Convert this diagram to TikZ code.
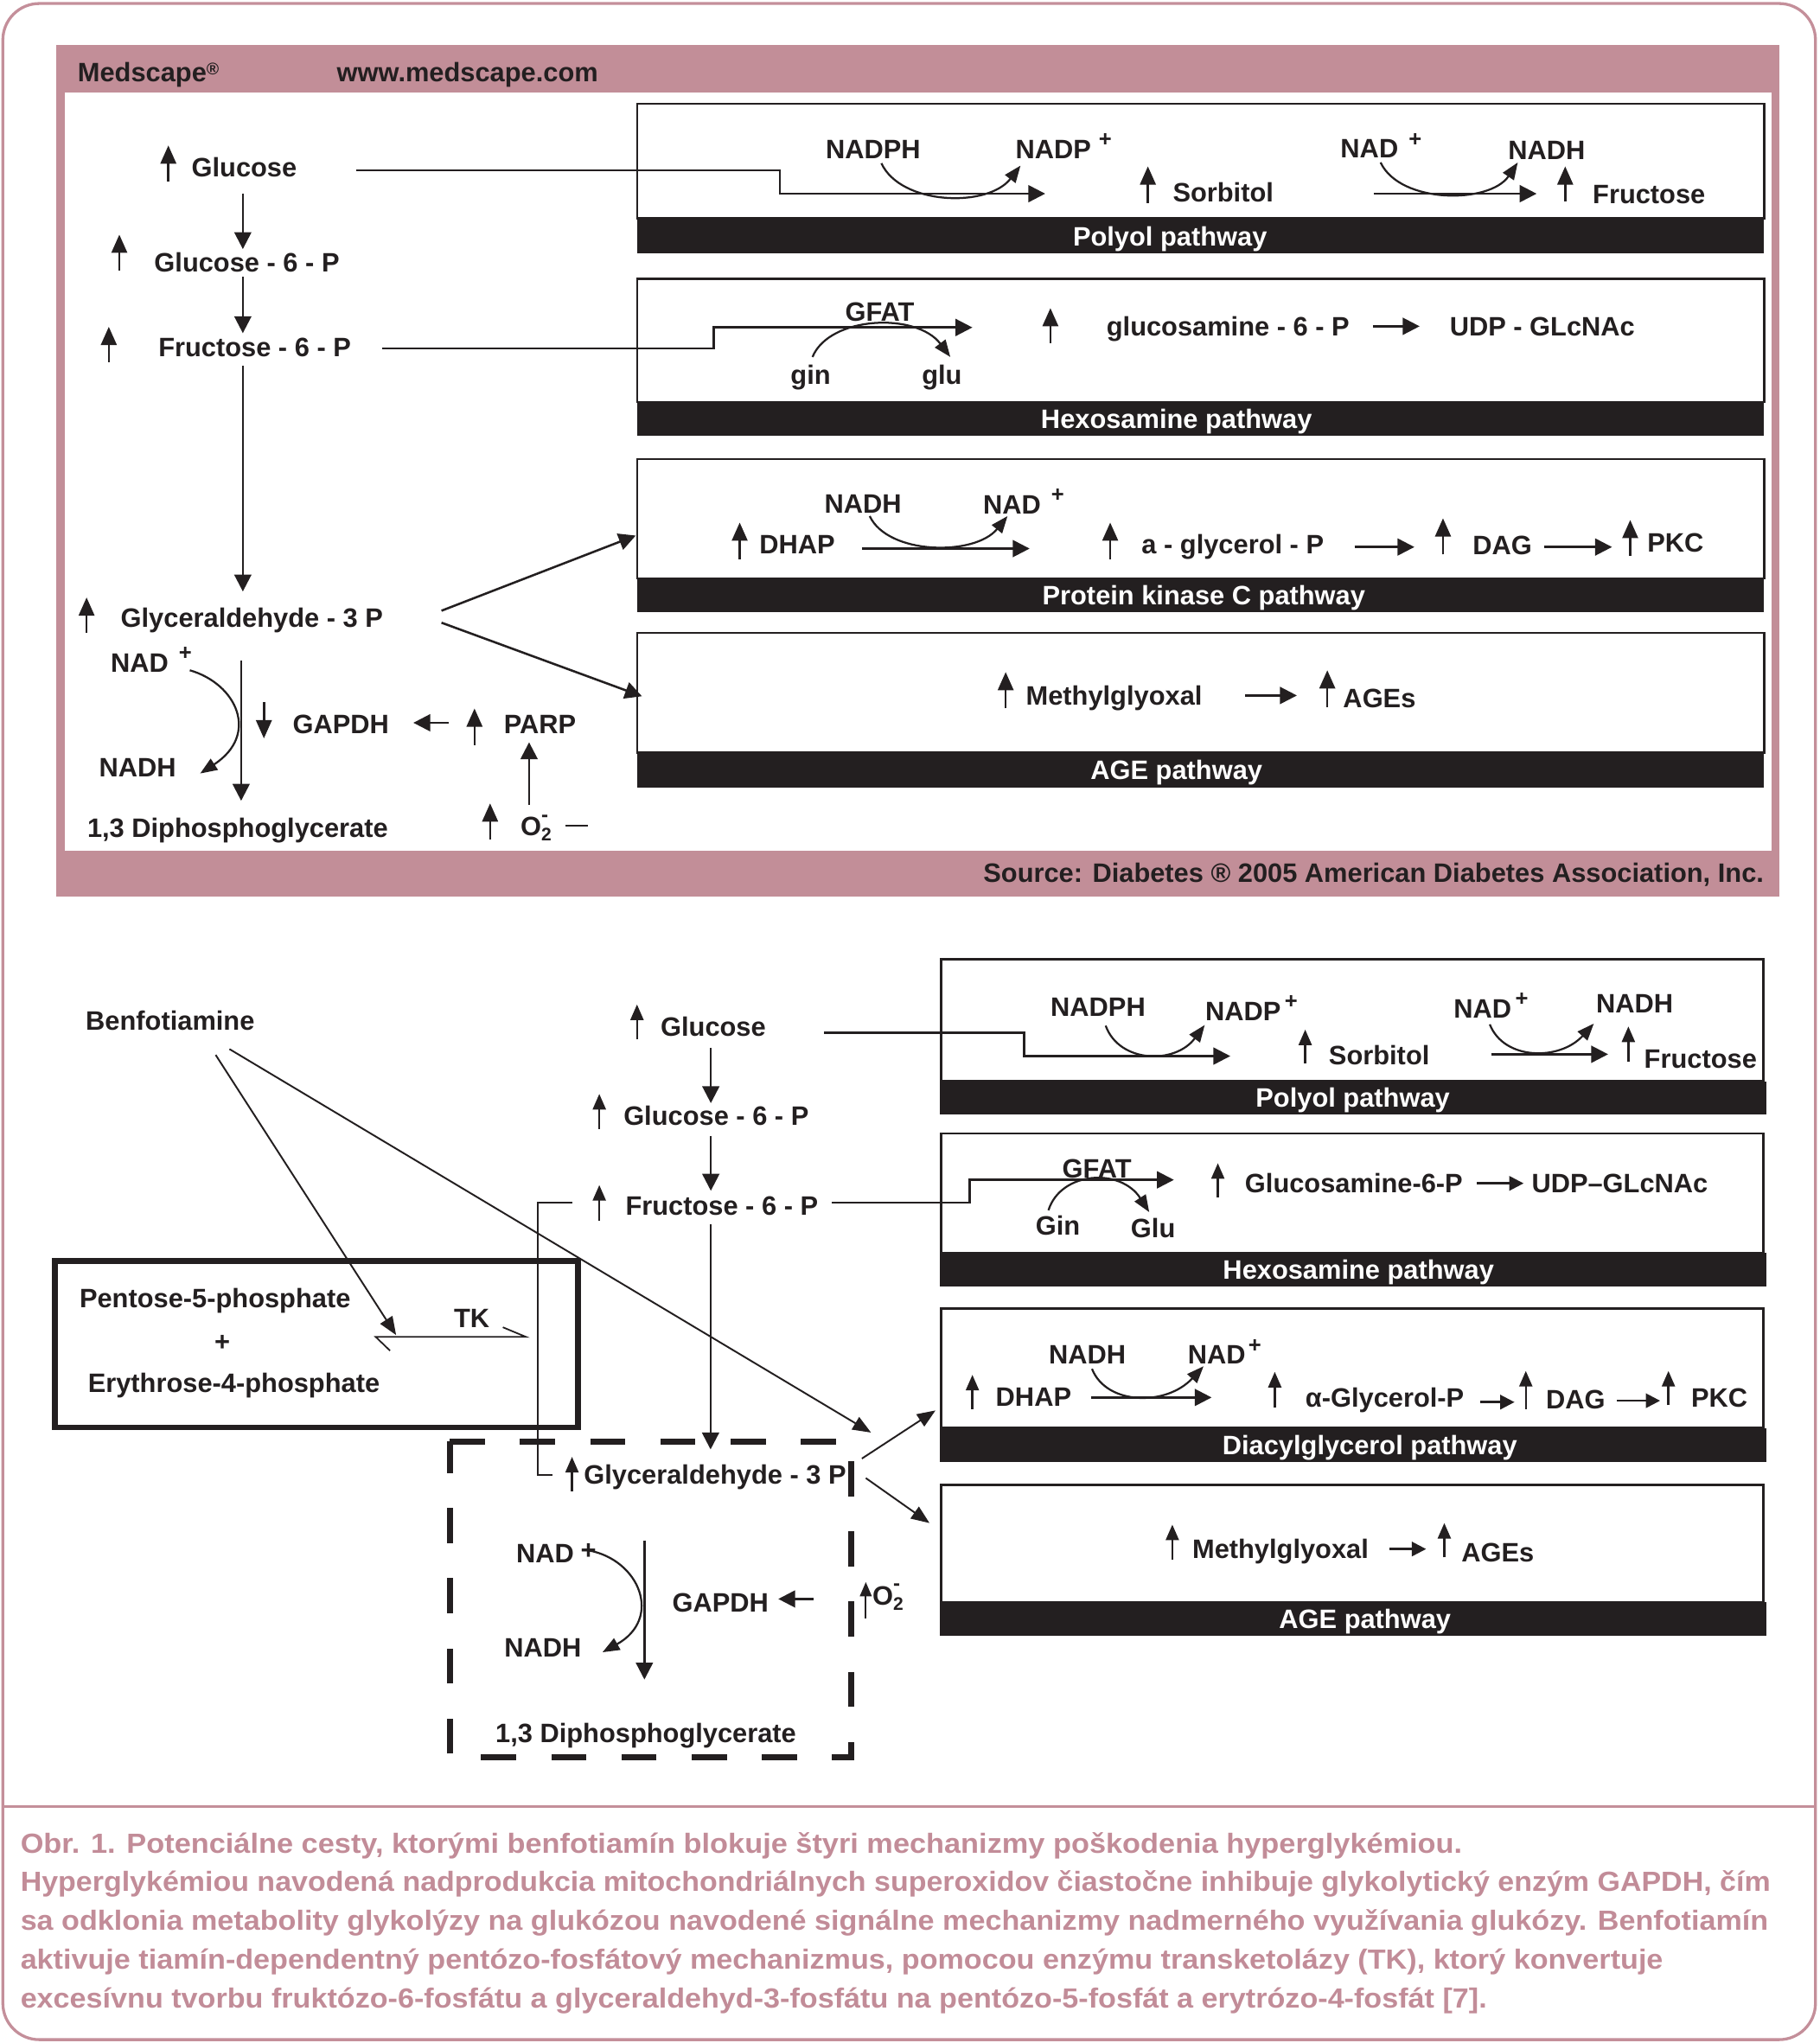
\documentclass[tikz,border=0pt]{standalone}
\usepackage{fontspec}
\setmainfont{Liberation Sans}
\usepackage{graphicx}
\usetikzlibrary{arrows.meta}
\definecolor{ink}{HTML}{231F20}
\definecolor{pinkb}{HTML}{C28E98}
\definecolor{pinkf}{HTML}{C48F9A}
\definecolor{capc}{HTML}{C28C98}
\newcommand\lblfont{\fontsize{20.5}{24}\selectfont\bfseries}
\newcommand\sups[1]{\raisebox{9pt}{\fontsize{17}{17}\selectfont #1}}
\newcommand\upar[4]{\coordinate (#1b) at (#2,#3); \coordinate (#1t) at (#2,#4); \draw[uparr] (#1b) -- (#1t);}
\newcommand\uparL[4]{\coordinate (#1b) at (#2,#3); \coordinate (#1t) at (#2,#4); \draw[uparrL] (#1b) -- (#1t);}
\tikzset{
 lbl/.style={font=\lblfont, text=ink, inner sep=0pt, anchor=base west, yshift=-7.4pt},
 clbl/.style={font=\lblfont, text=white, inner sep=0pt, anchor=base, yshift=-7.4pt},
 uparr/.style={draw=ink, line width=1.6pt, -{Triangle[width=10pt,length=12pt]}},
 uparrL/.style={draw=ink, line width=1.7pt, -{Triangle[width=12pt,length=14pt]}},
 conn/.style={draw=ink, line width=1.7pt, -{Triangle[width=13pt,length=13pt]}},
 sconn/.style={draw=ink, line width=1.7pt, -{Triangle[width=11pt,length=11pt]}},
 curv/.style={draw=ink, line width=1.5pt, -{Triangle[width=10pt,length=13pt]}},
 thinconn/.style={draw=ink, line width=1.3pt, -{Triangle[width=11pt,length=14pt]}},
 plain/.style={draw=ink, line width=1.7pt},
 thinl/.style={draw=ink, line width=1.2pt},
 pbox/.style={draw=ink, line width=1.6pt},
 band/.style={fill=ink},
 dbox/.style={draw=ink, line width=4.5pt, dash pattern=on 27pt off 27pt},
 capl/.style={font=\fontsize{21.3}{24}\selectfont\bfseries, text=capc, inner sep=0pt, anchor=base west, yshift=-7.7pt},
}
\begin{document}
\begin{tikzpicture}[x=1pt,y=-1pt]
\useasboundingbox (0,0) rectangle (1400,1571.6);
% outer frame
\draw[pinkf, line width=2.2pt, rounded corners=28pt] (2.2,2.7) rectangle (1396.5,1569);
\draw[pinkf, line width=2.2pt] (2.2,1389.8) -- (1396.5,1389.8);

% ================= TOP PANEL =================
\fill[pinkb] (43.5,34.8) rectangle (1368.8,690);
\fill[white] (49.9,70.9) rectangle (1363,654.5);
\node[lbl] (med) at (59.6,55.4) {Medscape\raisebox{5pt}{\fontsize{13}{13}\selectfont ®}};
\node[lbl] (www) at (259,55.4) {www.medscape.com};
\node[lbl, anchor=base east] (src) at (1357,671) {Source: Diabetes ® 2005 American Diabetes Association, Inc.};

% pathway boxes (top)
\draw[pbox] (490,79.7) rectangle (1357,168);
\fill[band] (490,168) rectangle (1357,195);
\node[clbl] (ppA) at (900,181.5) {Polyol pathway};
\draw[pbox] (490,214.4) rectangle (1357,309.4);
\fill[band] (490,309.4) rectangle (1357,335);
\node[clbl] (hpA) at (905,322) {Hexosamine pathway};
\draw[pbox] (490,353) rectangle (1357,445);
\fill[band] (490,445) rectangle (1357,471);
\node[clbl] (kpA) at (926,458) {Protein kinase C pathway};
\draw[pbox] (490,487) rectangle (1357,579);
\fill[band] (490,579) rectangle (1357,605.8);
\node[clbl] (apA) at (905,592) {AGE pathway};

% left chain (top)
\node[lbl] (glcA) at (147.2,128.5) {Glucose};
\uparL{uA1}{129.5}{139.5}{111.9}
\node[lbl] (g6pA) at (118.5,201.5) {Glucose - 6 - P};
\uparL{uA2}{91.8}{208.2}{180.5}
\node[lbl] (f6pA) at (121.7,266.9) {Fructose - 6 - P};
\uparL{uA3}{83.7}{278.6}{251.4}
\node[lbl] (gapA) at (92.7,475) {Glyceraldehyde - 3 P};
\uparL{uA4}{66.6}{487}{459.6}
\node[lbl] (nadA) at (85,509.4) {NAD\hspace{8pt}\sups{+}};
\node[lbl] (nadhA) at (76,590) {NADH};
\node[lbl] (dpgA) at (67,636.8) {1,3 Diphosphoglycerate};
\node[lbl] (gapdhA) at (225,557) {GAPDH};
\node[lbl] (parpA) at (387.5,557) {PARP};
\node[lbl] (o2A) at (400.3,635.6) {O\rlap{\raisebox{11pt}{\fontsize{16}{16}\selectfont -}}\raisebox{-4pt}{\fontsize{14}{14}\selectfont 2}\hspace{11pt}\raisebox{7pt}{\rule{17pt}{1.8pt}}};

\coordinate (a1) at (186.8,148.8); \coordinate (a2) at (186.8,191.6);
\draw[conn] (a1) -- (a2);
\coordinate (a3) at (186.8,213); \coordinate (a4) at (186.8,256.3);
\draw[conn] (a3) -- (a4);
\coordinate (a5) at (186.8,281.3); \coordinate (a6) at (186.8,455);
\draw[conn] (a5) -- (a6);
\coordinate (a7) at (185.5,508); \coordinate (a8) at (185.5,616);
\draw[conn] (a7) -- (a8);
\coordinate (c1s) at (146,515.6); \coordinate (c1e) at (154,595);
\draw[curv] (c1s) .. controls (182,526) and (200,565) .. (c1e);
\coordinate (gd1) at (203,540); \coordinate (gd2) at (203,568);
\draw[uparrL] (gd1) -- (gd2);
\coordinate (pg1) at (345,556); \coordinate (pg2) at (318,556);
\draw[conn] (pg1) -- (pg2);
\uparL{uA5}{365}{573}{545}
\coordinate (op1) at (407,619); \coordinate (op2) at (407,571);
\draw[conn] (op1) -- (op2);
\uparL{uA6}{377}{646}{618}

% connectors into boxes (top)
\coordinate (gl1) at (273.8,131.1); \coordinate (gl2) at (804,149);
\draw[conn] (gl1) -- (600,131.1) -- (600,149) -- (gl2);
\coordinate (fl1) at (293.7,268); \coordinate (fl2) at (748,251.9);
\draw[conn] (fl1) -- (549,268) -- (549,251.9) -- (fl2);
\coordinate (d1s) at (339.6,469.8); \coordinate (d1e) at (489,412);
\draw[conn] (d1s) -- (d1e);
\coordinate (d2s) at (339.6,479); \coordinate (d2e) at (493.8,535.6);
\draw[conn] (d2s) -- (d2e);

% polyol box contents (top)
\node[lbl] (nadphA) at (635,114.5) {NADPH};
\node[lbl] (nadpA) at (781,114.5) {NADP\hspace{6pt}\sups{+}};
\coordinate (cp1s) at (678,125.6); \coordinate (cp1e) at (785,127.4);
\draw[curv] (cp1s) .. controls (693,158) and (760,160) .. (cp1e);
\node[lbl] (sorA) at (902,148) {Sorbitol};
\uparL{uA7}{883}{156}{128}
\node[lbl] (nad2A) at (1031,114) {NAD\hspace{8pt}\sups{+}};
\node[lbl] (nadh2A) at (1160,115) {NADH};
\coordinate (cp2s) at (1062,125); \coordinate (cp2e) at (1167.5,125);
\draw[curv] (cp2s) .. controls (1077,157) and (1146,157) .. (cp2e);
\coordinate (pa1) at (1056.6,149); \coordinate (pa2) at (1182,149);
\draw[conn] (pa1) -- (pa2);
\node[lbl] (fruA) at (1225,149.5) {Fructose};
\uparL{uA8}{1204}{155}{128}

% hexosamine contents (top)
\node[lbl] (gfatA) at (650,240) {GFAT};
\node[lbl] (ginA) at (608,288) {gin};
\node[lbl] (gluA) at (709,288) {glu};
\coordinate (ch1s) at (625,274.6); \coordinate (ch1e) at (731,274.6);
\draw[curv] (ch1s) .. controls (638,243) and (705,240) .. (ch1e);
\uparL{uA9}{808}{264}{237}
\node[lbl] (gsA) at (851,251) {glucosamine - 6 - P};
\coordinate (ha1) at (1056,251); \coordinate (ha2) at (1092,251);
\draw[conn] (ha1) -- (ha2);
\node[lbl] (udpA) at (1115,251) {UDP - GLcNAc};

% PKC contents (top)
\node[lbl] (nadh3A) at (634,387.6) {NADH};
\node[lbl] (nad3A) at (756,388) {NAD\hspace{8pt}\sups{+}};
\uparL{uA10}{569}{430}{402}
\node[lbl] (dhapA) at (584,418.6) {DHAP};
\coordinate (ka1) at (663,422); \coordinate (ka2) at (792,422);
\draw[conn] (ka1) -- (ka2);
\coordinate (ck1s) at (669,397); \coordinate (ck1e) at (775,397);
\draw[curv] (ck1s) .. controls (683,427) and (750,428) .. (ck1e);
\uparL{uA11}{854}{430}{402}
\node[lbl] (agpA) at (878,418.6) {a - glycerol - P};
\coordinate (ka3) at (1042,420.8); \coordinate (ka4) at (1088,420.8);
\draw[conn] (ka3) -- (ka4);
\uparL{uA12}{1110}{426.5}{398.7}
\node[lbl] (dagA) at (1132.6,419) {DAG};
\coordinate (ka5) at (1187.6,420.8); \coordinate (ka6) at (1240,420.8);
\draw[conn] (ka5) -- (ka6);
\uparL{uA13}{1254}{427.6}{400}
\node[lbl] (pkcA) at (1267,417.5) {PKC};

% AGE contents (top)
\uparL{uA14}{773.6}{545}{517}
\node[lbl] (mgA) at (789,535) {Methylglyoxal};
\coordinate (ma1) at (958,535); \coordinate (ma2) at (997.6,535);
\draw[conn] (ma1) -- (ma2);
\uparL{uA15}{1021}{544}{515.6}
\node[lbl] (agesA) at (1033,537) {AGEs};

% ================= BOTTOM DIAGRAM =================
% pathway boxes (bottom)
\draw[pbox] (724,738) rectangle (1356.5,831.7);
\fill[band] (722.8,831.7) rectangle (1359,857);
\node[clbl] (ppB) at (1040.6,844.5) {Polyol pathway};
\draw[pbox] (724,872) rectangle (1356.5,964);
\fill[band] (722.8,964) rectangle (1359,989.5);
\node[clbl] (hpB) at (1045,976.7) {Hexosamine pathway};
\draw[pbox] (724,1006.6) rectangle (1356.5,1098.5);
\fill[band] (722.8,1098.5) rectangle (1359,1124.7);
\node[clbl] (dpB) at (1053.7,1111.8) {Diacylglycerol pathway};
\draw[pbox] (724,1142.4) rectangle (1356.5,1232.5);
\fill[band] (722.8,1232.5) rectangle (1359,1258.6);
\node[clbl] (apB) at (1050,1245) {AGE pathway};

% dashed box
\coordinate (db1) at (346,1109);
\draw[dbox] (db1) -- (655,1109) -- (655,1352) -- (346,1352) -- cycle;

% pentose box
\draw[draw=ink, line width=4.5pt] (42,970) rectangle (444.8,1098);
\node[lbl] (pent) at (61,998.7) {Pentose-5-phosphate};
\node[lbl, anchor=base] (plus) at (171,1032) {+};
\node[lbl] (ery) at (67.5,1063.8) {Erythrose-4-phosphate};
\node[lbl] (tk) at (349,1013.6) {TK};
\coordinate (tkb1) at (300,1039); \coordinate (tkl) at (289,1028.4);
\coordinate (tkr) at (404.6,1028.4); \coordinate (tkb2) at (386.8,1021);
\draw[thinl] (tkb1) -- (tkl) -- (tkr) -- (tkb2);

% chain (bottom)
\node[lbl] (ben) at (65.8,785) {Benfotiamine};
\node[lbl] (glcB) at (508,789.5) {Glucose};
\upar{uB1}{490}{799.7}{772.7}
\node[lbl] (g6pB) at (479.5,858) {Glucose - 6 - P};
\upar{uB2}{461}{868.5}{841.5}
\node[lbl] (f6pB) at (481,927.6) {Fructose - 6 - P};
\upar{uB3}{461}{939}{911.6}
\coordinate (b1) at (546.8,806); \coordinate (b2) at (546.8,848.6);
\draw[conn] (b1) -- (b2);
\coordinate (b3) at (546.8,873.8); \coordinate (b4) at (546.8,916);
\draw[conn] (b3) -- (b4);
\coordinate (b5) at (546.6,941.9); \coordinate (b6) at (546.6,1115);
\draw[conn] (b5) -- (b6);

% benfotiamine arrows
\coordinate (bf1) at (165.9,811.5); \coordinate (bf1e) at (304.7,1027);
\draw[thinconn] (bf1) -- (bf1e);
\coordinate (bf2) at (176.5,807); \coordinate (bf2e) at (670,1102);
\draw[thinconn] (bf2) -- (bf2e);

% bracket from fructose-6-P to glyceraldehyde
\coordinate (br1) at (440,925); \coordinate (br2) at (425,1134.7);
\draw[thinl] (br1) -- (413.7,925) -- (413.7,1134.7) -- (br2);

% inside dashed box
\node[lbl] (gapB) at (449,1134) {Glyceraldehyde - 3 P};
\upar{uB4}{440}{1147}{1120.7}
\node[lbl] (nadB) at (397,1195) {NAD\hspace{5pt}\raisebox{3pt}{+}};
\node[lbl] (nadhB) at (387.8,1267) {NADH};
\coordinate (cb1s) at (453,1192.7); \coordinate (cb1e) at (463.5,1271);
\draw[curv] (cb1s) .. controls (492,1200) and (510,1245) .. (cb1e);
\coordinate (v1) at (495.7,1185); \coordinate (v2) at (495.7,1292);
\draw[conn] (v1) -- (v2);
\node[lbl] (gapdhB) at (517,1232.6) {GAPDH};
\coordinate (ga1) at (626,1230); \coordinate (ga2) at (598.7,1230);
\draw[conn] (ga1) -- (ga2);
\node[lbl] (o2B) at (671,1227) {O\rlap{\raisebox{11pt}{\fontsize{16}{16}\selectfont -}}\raisebox{-4pt}{\fontsize{14}{14}\selectfont 2}};
\coordinate (uB5b) at (666,1244.8); \coordinate (uB5t) at (666,1217);
\draw[draw=ink, line width=1.4pt, -{Triangle[width=9pt,length=11pt]}] (uB5b) -- (uB5t);
\node[lbl] (dpgB) at (381,1333) {1,3 Diphosphoglycerate};

\coordinate (e1s) at (663,1122); \coordinate (e1e) at (719.6,1085);
\draw[thinconn] (e1s) -- (e1e);
\coordinate (e2s) at (666,1137); \coordinate (e2e) at (715,1171.6);
\draw[thinconn] (e2s) -- (e2e);

% connectors into boxes (bottom)
\coordinate (gB1) at (634,794.5); \coordinate (gB2) at (946.4,812.4);
\draw[conn] (gB1) -- (787.8,794.5) -- (787.8,812.4) -- (gB2);
\coordinate (fB1) at (639.7,925); \coordinate (fB2) at (903,907.6);
\draw[conn] (fB1) -- (746,925) -- (746,907.6) -- (fB2);

% polyol (bottom)
\node[lbl] (nadphB) at (808,774.7) {NADPH};
\node[lbl] (nadpB) at (927,777.4) {NADP\hspace{3pt}\sups{+}};
\coordinate (cq1s) at (850.5,789); \coordinate (cq1e) at (926.7,788.5);
\draw[curv] (cq1s) .. controls (861,818) and (904,819) .. (cq1e);
\node[lbl] (sorB) at (1022,811.8) {Sorbitol};
\upar{uB6}{1004}{818}{792}
\node[lbl] (nad2B) at (1118,775.6) {NAD\hspace{3pt}\sups{+}};
\node[lbl] (nadh2B) at (1227.6,771.9) {NADH};
\coordinate (cq2s) at (1146,788); \coordinate (cq2e) at (1226,787.4);
\draw[curv] (cq2s) .. controls (1157,816) and (1200,816) .. (cq2e);
\coordinate (pb1) at (1147,811); \coordinate (pb2) at (1237,811);
\draw[conn] (pb1) -- (pb2);
\node[lbl] (fruB) at (1264.6,814) {Fructose};
\upar{uB7}{1252.6}{817}{789.6}

% hexosamine (bottom)
\node[lbl] (gfatB) at (817,899) {GFAT};
\node[lbl] (ginB) at (796.5,942.4) {Gin};
\node[lbl] (gluB) at (869.7,944.6) {Glu};
\coordinate (cr1s) at (806.5,931); \coordinate (cr1e) at (884,932.4);
\draw[curv] (cr1s) .. controls (816,901) and (862,898) .. (cr1e);
\upar{uB8}{936.8}{921}{894.8}
\node[lbl] (gsB) at (957.5,910.3) {Glucosamine-6-P};
\coordinate (hb1) at (1136,910.3); \coordinate (hb2) at (1172,910.3);
\draw[sconn] (hb1) -- (hb2);
\node[lbl] (udpB) at (1178,910.3) {UDP–GLcNAc};

% diacylglycerol (bottom)
\node[lbl] (nadh3B) at (806.6,1042) {NADH};
\node[lbl] (nad3B) at (913.6,1042) {NAD\hspace{2pt}\sups{+}};
\upar{uB9}{748}{1084}{1057.6}
\node[lbl] (dhapB) at (765.8,1074.2) {DHAP};
\coordinate (kb1) at (839,1075); \coordinate (kb2) at (932,1075);
\draw[conn] (kb1) -- (kb2);
\coordinate (cs1s) at (840,1053); \coordinate (cs1e) at (925.8,1051);
\draw[curv] (cs1s) .. controls (851,1081) and (897,1082) .. (cs1e);
\upar{uB10}{980.6}{1083}{1055.3}
\node[lbl] (agpB) at (1004,1075) {α-Glycerol-P};
\coordinate (kb3) at (1138.5,1078.6); \coordinate (kb4) at (1165,1078.6);
\draw[sconn] (kb3) -- (kb4);
\upar{uB11}{1173.7}{1084}{1054.6}
\node[lbl] (dagB) at (1189,1076.4) {DAG};
\coordinate (kb5) at (1244,1077.5); \coordinate (kb6) at (1277,1077.5);
\draw[sconn] (kb5) -- (kb6);
\upar{uB12}{1283.4}{1081}{1054.6}
\node[lbl] (pkcB) at (1300.8,1075) {PKC};

% AGE (bottom)
\upar{uB13}{901.8}{1200}{1172.8}
\node[lbl] (mgB) at (917,1191.6) {Methylglyoxal};
\coordinate (mb1) at (1068.5,1191.6); \coordinate (mb2) at (1097,1191.6);
\draw[sconn] (mb1) -- (mb2);
\upar{uB14}{1111}{1198}{1171.6}
\node[lbl] (agesB) at (1124,1193.8) {AGEs};

% ================= CAPTION =================
\node[capl] (cap1) at (15.6,1418) {\resizebox{1109pt}{\height}{Obr. 1. Potenciálne cesty, ktorými benfotiamín blokuje štyri mechanizmy poškodenia hyperglykémiou.}};
\node[capl] (cap2) at (15.6,1447.4) {\resizebox{1346pt}{\height}{Hyperglykémiou navodená nadprodukcia mitochondriálnych superoxidov čiastočne inhibuje glykolytický enzým GAPDH, čím}};
\node[capl] (cap3) at (15.6,1477.3) {\resizebox{1344.4pt}{\height}{sa odklonia metabolity glykolýzy na glukózou navodené signálne mechanizmy nadmerného využívania glukózy. Benfotiamín}};
\node[capl] (cap4) at (15.6,1507.2) {\resizebox{1263.4pt}{\height}{aktivuje tiamín-dependentný pentózo-fosfátový mechanizmus, pomocou enzýmu transketolázy (TK), ktorý konvertuje}};
\node[capl] (cap5) at (15.6,1536.7) {\resizebox{1128pt}{\height}{excesívnu tvorbu fruktózo-6-fosfátu a glyceraldehyd-3-fosfátu na pentózo-5-fosfát a erytrózo-4-fosfát [7].}};
\end{tikzpicture}
\end{document}
